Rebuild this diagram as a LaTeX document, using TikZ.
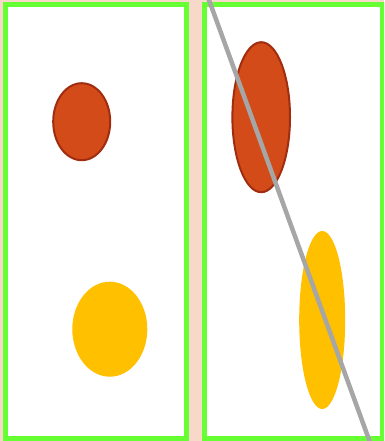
\documentclass[tikz,border=0pt]{standalone}
\usetikzlibrary{calc}
\definecolor{peach}{RGB}{248,216,200}
\definecolor{framegreen}{RGB}{102,255,51}
\definecolor{orangefill}{RGB}{210,75,25}
\definecolor{orangeline}{RGB}{160,45,15}
\definecolor{goldfill}{RGB}{255,192,0}
\definecolor{cutgray}{RGB}{166,166,166}
\tikzset{
  panel/.style={draw=framegreen, line width=5pt, fill=white},
  redblob/.style={fill=orangefill, draw=orangeline, line width=2pt},
  goldblob/.style={fill=goldfill},
  cutline/.style={draw=cutgray, line width=4.5pt}
}
\begin{document}
\begin{tikzpicture}[x=1pt,y=-1pt]
\useasboundingbox (0,0) rectangle (384,441);
\clip (0,0) rectangle (384,441);
\fill[peach] (0,0) rectangle (384,441);
% panels
\draw[panel] (5.5,4.5) rectangle (186,438.5);
\draw[panel] (204.5,4.5) rectangle (382.5,438.5);
% left panel shapes
\draw[redblob] (81.7,121.7) ellipse [x radius=28.5, y radius=38.5];
\fill[goldblob] (109.8,329.2) ellipse [x radius=37.5, y radius=47.5];
% right panel shapes
\draw[redblob] (261.2,117.2) ellipse [x radius=28.8, y radius=75];
\fill[goldblob] (322.2,320) ellipse [x radius=23, y radius=89];
% cut line
\coordinate (cuttop) at (209,0);
\coordinate (cutbot) at (369.5,441);
\draw[cutline] ($(cuttop)!-0.02!(cutbot)$) -- ($(cutbot)!-0.02!(cuttop)$);
\end{tikzpicture}
\end{document}
